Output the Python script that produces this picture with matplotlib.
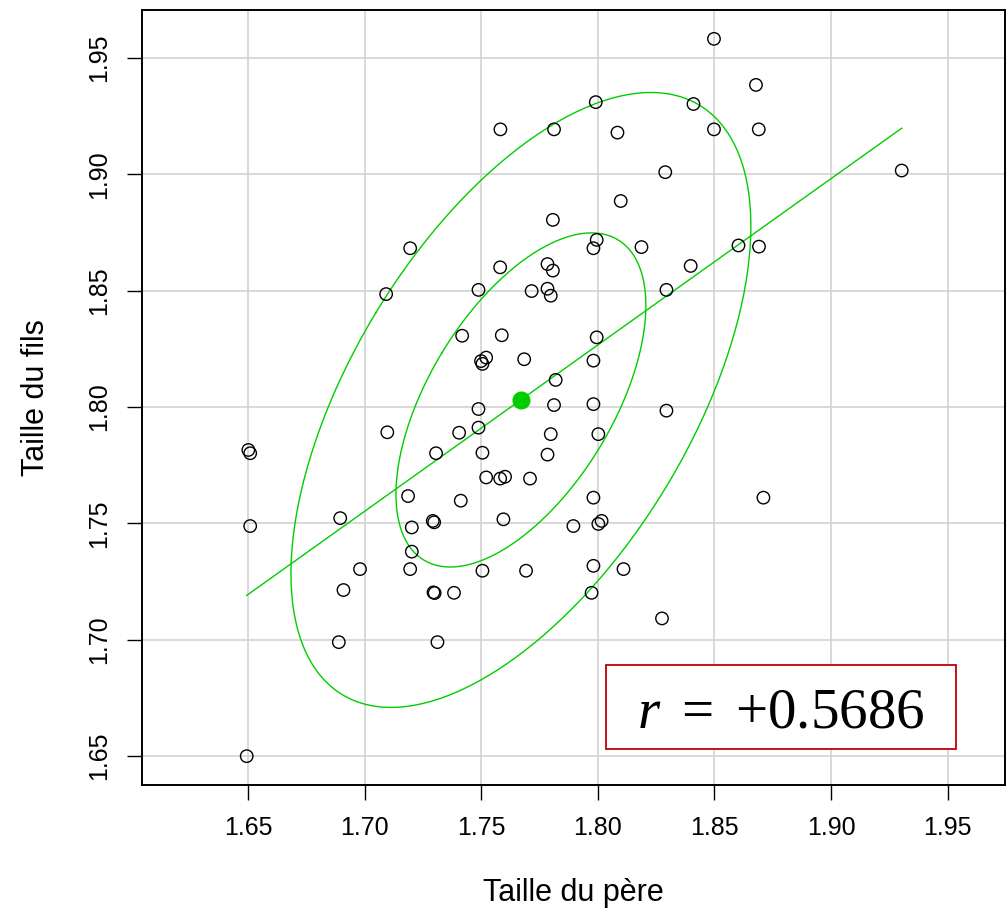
import numpy as np
import matplotlib
matplotlib.use("Agg")
from matplotlib import pyplot as plt
from matplotlib.patches import Rectangle

# taille du pere / taille du fils (m)
pere = [1.7195, 1.7092, 1.8498, 1.7991, 1.8410, 1.7582, 1.7812, 1.8084, 1.8498, 1.8289,
        1.8098, 1.7807, 1.7995, 1.7981, 1.8187, 1.7581, 1.7784, 1.7807, 1.8398, 1.7488,
        1.7716, 1.7784, 1.7798, 1.8294, 1.7418, 1.7588, 1.7995, 1.7521, 1.7499, 1.7505,
        1.7684, 1.7981, 1.7819, 1.8678, 1.8690, 1.9303, 1.8603, 1.8691, 1.6501, 1.6509,
        1.6509, 1.6494, 1.7097, 1.7306, 1.6895, 1.7186, 1.7202, 1.7292, 1.7298, 1.7202,
        1.7195, 1.6980, 1.6909, 1.7295, 1.7300, 1.6889, 1.7312, 1.7488, 1.7812, 1.7981,
        1.8294, 1.7488, 1.7405, 1.7798, 1.8002, 1.7505, 1.7784, 1.7521, 1.7581, 1.7602,
        1.7709, 1.7412, 1.7981, 1.7595, 1.7895, 1.8002, 1.8016, 1.7505, 1.7692, 1.7981,
        1.8110, 1.7383, 1.7973, 1.8275, 1.8710]
fils = [1.8682, 1.8485, 1.9582, 1.9310, 1.9302, 1.9193, 1.9193, 1.9179, 1.9193, 1.9009,
        1.8885, 1.8804, 1.8718, 1.8682, 1.8687, 1.8600, 1.8614, 1.8586, 1.8606, 1.8503,
        1.8498, 1.8508, 1.8478, 1.8503, 1.8306, 1.8308, 1.8299, 1.8212, 1.8197, 1.8185,
        1.8205, 1.8199, 1.8116, 1.9384, 1.9193, 1.9016, 1.8694, 1.8689, 1.7815, 1.7801,
        1.7488, 1.6499, 1.7891, 1.7801, 1.7522, 1.7617, 1.7482, 1.7510, 1.7504, 1.7378,
        1.7303, 1.7303, 1.7213, 1.7203, 1.7200, 1.6989, 1.6989, 1.7991, 1.8008, 1.8012,
        1.7984, 1.7911, 1.7889, 1.7883, 1.7883, 1.7803, 1.7795, 1.7697, 1.7692, 1.7700,
        1.7692, 1.7597, 1.7610, 1.7517, 1.7488, 1.7497, 1.7510, 1.7296, 1.7296, 1.7317,
        1.7303, 1.7201, 1.7201, 1.7091, 1.7610]
r_text = "+0.5686"
ticks = [1.65, 1.70, 1.75, 1.80, 1.85, 1.90, 1.95]

# estimation robuste (centre, ecarts-types, correlation) des ellipses
centre = (1.767, 1.803)
sd_pere, sd_fils, rho = 0.0453, 0.0607, 0.565
levels = [1.183, 2.177]   # niveaux 50 % et 90 %

x = np.array(pere)
y = np.array(fils)
green = "#00CD00"

plt.rcParams["font.family"] = ["Liberation Sans", "DejaVu Sans"]
plt.rcParams["mathtext.fontset"] = "custom"
plt.rcParams["mathtext.rm"] = "Liberation Serif"
plt.rcParams["mathtext.it"] = "Liberation Serif:italic"

fig = plt.figure(figsize=(10.08, 9.15), dpi=100)
ax = fig.add_axes([142 / 1008, 1 - 785 / 915, (1005 - 142) / 1008, (785 - 10) / 915])

ax.set_xlim(1.6045, 1.9746)
ax.set_ylim(1.6375, 1.9706)
ax.set_xticks(ticks)
ax.set_yticks(ticks)
ax.set_xticklabels(["%.2f" % t for t in ticks])
ax.set_yticklabels(["%.2f" % t for t in ticks], rotation=90, va="center")
ax.grid(True, color="#D3D3D3", linewidth=1.2)
ax.set_axisbelow(True)
ax.tick_params(length=11, width=1.0, labelsize=18, pad=11)
for s in ax.spines.values():
    s.set_linewidth(1.4)

ax.scatter(x, y, s=80, facecolors="none", edgecolors="black", linewidths=1.0, zorder=3)

# droite de regression
a, b = np.polyfit(x, y, 1)
xs = np.array([x.min(), x.max()])
ax.plot(xs, a * xs + b, color=green, linewidth=1.0, zorder=2)

# ellipses de concentration
cov = np.array([[sd_pere ** 2, rho * sd_pere * sd_fils],
                [rho * sd_pere * sd_fils, sd_fils ** 2]])
vals, vecs = np.linalg.eigh(cov)
t = np.linspace(0, 2 * np.pi, 300)
circle = np.vstack([np.cos(t), np.sin(t)])
shape = vecs @ np.diag(np.sqrt(vals))
for c in levels:
    pts = shape @ circle * c
    ax.plot(centre[0] + pts[0], centre[1] + pts[1], color=green, linewidth=1.0, zorder=2)
ax.plot([centre[0]], [centre[1]], "o", color=green, markersize=12, zorder=4)

ax.set_xlabel("Taille du père", fontsize=22, labelpad=28)
ax.set_ylabel("Taille du fils", fontsize=22, labelpad=26)

ax.add_patch(Rectangle((0.5377, 0.0465), 0.4055, 0.1083, transform=ax.transAxes,
                       facecolor="white", edgecolor="#C00000", linewidth=1.3, zorder=5))
ax.text(0.7404, 0.0748, r"$r\ =\ {" + r_text + "}$",
        transform=ax.transAxes, fontsize=41, ha="center", va="baseline", zorder=6)

fig.savefig("out.png", dpi=100)
